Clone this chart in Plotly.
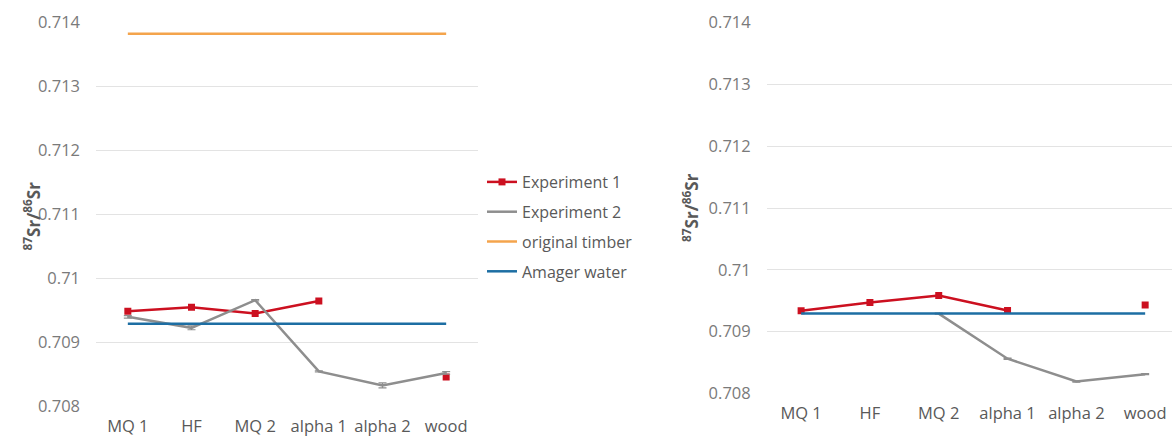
import plotly.graph_objects as go

# Sample steps on the category axis
steps = ["MQ 1", "HF", "MQ 2", "alpha 1", "alpha 2", "wood"]

# Left panel: 87Sr/86Sr per step
left_exp1 = [0.70949, 0.709555, 0.709456, 0.70965, None, 0.708464]
left_exp2 = [0.709404, 0.709232, 0.709665, 0.708552, 0.708333, 0.708527]
left_exp2_err = [0.00002, 0.00003, 0.00001, 0.00001, 0.00004, 0.00002]
left_timber = [0.713828, 0.713828, 0.713828, 0.713828, 0.713828, 0.713828]
left_water = [0.709295, 0.709295, 0.709295, 0.709295, 0.709295, 0.709295]

# Right panel: 87Sr/86Sr per step
right_exp1 = [0.709335, 0.70947, 0.709584, 0.70934, None, 0.709428]
right_exp2 = [None, None, 0.70929, 0.70856, 0.70819, 0.70831]
right_exp2_err = [0, 0, 0.00001, 0.00001, 0.00001, 0.00001]
right_water = [0.709292, 0.709292, 0.709292, 0.709292, 0.709292, 0.709292]

y_ticks = [0.708, 0.709, 0.71, 0.711, 0.712, 0.713, 0.714]
y_ticktext = ["0.708", "0.709", "0.71", "0.711", "0.712", "0.713", "0.714"]

RED = "#cc1020"
GRAY = "#8e8e8e"
ORANGE = "#f4a44c"
BLUE = "#1d6ea3"
FONT = "Open Sans"

fig = go.Figure()

# Left panel traces (these carry the legend)
fig.add_trace(go.Scatter(
    x=steps, y=left_exp1, name="Experiment 1", mode="lines+markers",
    line=dict(color=RED, width=2.5), marker=dict(symbol="square", size=7, color=RED),
    connectgaps=False, xaxis="x", yaxis="y", legendgroup="a"))
fig.add_trace(go.Scatter(
    x=steps, y=left_exp2, name="Experiment 2", mode="lines",
    line=dict(color=GRAY, width=2.5),
    error_y=dict(type="data", array=left_exp2_err, color=GRAY, thickness=1.2, width=4),
    xaxis="x", yaxis="y", legendgroup="b"))
fig.add_trace(go.Scatter(
    x=steps, y=left_timber, name="original timber", mode="lines",
    line=dict(color=ORANGE, width=2.5), xaxis="x", yaxis="y", legendgroup="c"))
fig.add_trace(go.Scatter(
    x=steps, y=left_water, name="Amager water", mode="lines",
    line=dict(color=BLUE, width=2.5), xaxis="x", yaxis="y", legendgroup="d"))

# Right panel traces
fig.add_trace(go.Scatter(
    x=steps, y=right_exp1, mode="lines+markers", showlegend=False,
    line=dict(color=RED, width=2.5), marker=dict(symbol="square", size=7, color=RED),
    connectgaps=False, xaxis="x2", yaxis="y2"))
fig.add_trace(go.Scatter(
    x=steps, y=right_exp2, mode="lines", showlegend=False,
    line=dict(color=GRAY, width=2.5),
    error_y=dict(type="data", array=right_exp2_err, color=GRAY, thickness=1.2, width=4),
    xaxis="x2", yaxis="y2"))
fig.add_trace(go.Scatter(
    x=steps, y=right_water, mode="lines", showlegend=False,
    line=dict(color=BLUE, width=2.5), xaxis="x2", yaxis="y2"))

W, H = 1172, 439

xaxis_common = dict(
    type="category", showgrid=False, zeroline=False, showline=False,
    tickfont=dict(family=FONT, size=16.5, color="#595959"), ticks="",
    ticklabelstandoff=8, automargin=False, fixedrange=True,
)
yaxis_common = dict(
    range=[0.708, 0.714], tickvals=y_ticks, ticktext=y_ticktext,
    showgrid=True, gridcolor="#e3e3e3", gridwidth=1, zeroline=False, showline=False,
    tickfont=dict(family=FONT, size=16.5, color="#7a7a7a"), ticks="",
    ticklabelstandoff=15, automargin=False,
)

fig.update_layout(
    width=W, height=H,
    margin=dict(l=0, r=0, t=0, b=0, autoexpand=False),
    paper_bgcolor="white", plot_bgcolor="white",
    xaxis=dict(domain=[96 / W, 478 / W], range=[-0.5, 5.5], anchor="y", **xaxis_common),
    yaxis=dict(domain=[1 - 406.7 / H, 1 - 22.7 / H], anchor="x", **yaxis_common),
    xaxis2=dict(domain=[766.7 / W, 1.0], range=[-0.5, 5.39], anchor="y2", **xaxis_common),
    yaxis2=dict(domain=[1 - 393.3 / H, 1 - 22.7 / H], anchor="x2", **yaxis_common),
    legend=dict(
        x=482 / W, y=1 - 165 / H, xanchor="left", yanchor="top",
        font=dict(family=FONT, size=16, color="#595959"),
        bgcolor="rgba(0,0,0,0)", traceorder="grouped", tracegroupgap=6,
        itemwidth=30,
    ),
    showlegend=True,
)

# Axis titles
title_text = "<b><sup>87</sup>Sr/<sup>86</sup>Sr</b>"
fig.add_annotation(text=title_text, xref="paper", yref="paper",
                   x=18 / W, y=1 - 216 / H, showarrow=False, textangle=-90,
                   font=dict(family=FONT, size=17, color="#595959"))
fig.add_annotation(text=title_text, xref="paper", yref="paper",
                   x=690 / W, y=1 - 208 / H, showarrow=False, textangle=-90,
                   font=dict(family=FONT, size=17, color="#595959"))

fig.write_html("out.html")
